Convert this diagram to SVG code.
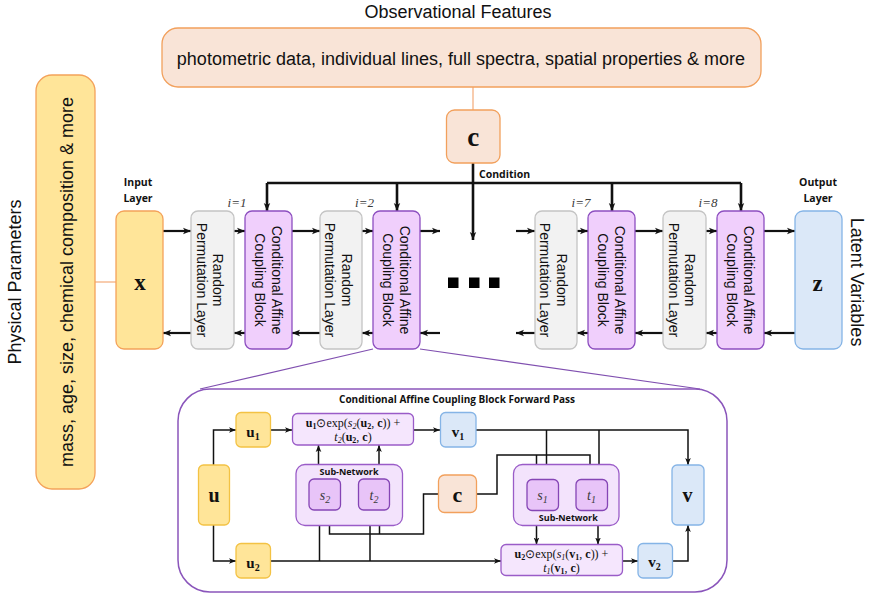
<svg xmlns="http://www.w3.org/2000/svg" width="869" height="596" viewBox="0 0 869 596">
  <style>
    .sans { font-family: "Liberation Sans", Arial, sans-serif; fill: #111; }
    .bsm { font-family: "Open Sans", "Liberation Sans", sans-serif; font-weight: bold; fill: #111; }
    .serif { font-family: "Liberation Serif", "Times New Roman", serif; fill: #111; }
    .bs { font-family: "Liberation Serif", "Times New Roman", serif; font-weight: bold; fill: #111; }
    .it { font-family: "Liberation Serif", "Times New Roman", serif; font-style: italic; fill: #3a3a3a; }
    .peach { fill: #f9e4d7; stroke: #f2a05c; stroke-width: 1.3; }
    .yellowO { fill: #ffe599; stroke: #f4a25a; stroke-width: 1.3; }
    .yellowG { fill: #ffe599; stroke: #f3c244; stroke-width: 1.3; }
    .gray { fill: #f2f2f2; stroke: #c4c4c4; stroke-width: 1.3; }
    .cab { fill: #f0cffc; stroke: #8d4fc0; stroke-width: 1.3; }
    .blue { fill: #dbe8f8; stroke: #85b4e6; stroke-width: 1.3; }
    .form { fill: #f5e6fd; stroke: #9a5cc8; stroke-width: 1.3; }
    .sub { fill: #f3e3fc; stroke: #9a5cc8; stroke-width: 1.3; }
    .st { fill: #e8c4f8; stroke: #8545b5; stroke-width: 1.3; }
    .wire { fill: none; stroke: #111; stroke-width: 2.2; }
    .cond { fill: none; stroke: #111; stroke-width: 2.6; }
    .thin { fill: none; stroke: #111; stroke-width: 1.5; }
    .orange { fill: none; stroke: #f4b183; stroke-width: 1.3; }
    .callout { fill: none; stroke: #8050b0; stroke-width: 1.2; }
  </style>
  <defs>
    <marker id="ah" viewBox="0 0 10 10" refX="10" refY="5" markerWidth="8" markerHeight="8" markerUnits="userSpaceOnUse" orient="auto">
      <path d="M0,1 L10,5 L0,9 L2.5,5 z" fill="#111"/>
    </marker>
    <marker id="ahs" viewBox="0 0 10 10" refX="10" refY="5" markerWidth="7" markerHeight="7" markerUnits="userSpaceOnUse" orient="auto">
      <path d="M0,1 L10,5 L0,9 L2.5,5 z" fill="#111"/>
    </marker>
  </defs>

  <!-- headings -->
  <text class="sans" x="458" y="18" font-size="18" text-anchor="middle">Observational Features</text>
  <text class="sans" font-size="18" text-anchor="middle" transform="translate(20.5,282) rotate(-90)">Physical Parameters</text>
  <text class="sans" font-size="18" text-anchor="middle" transform="translate(851,282) rotate(90)">Latent Variables</text>

  <!-- connectors -->
  <g id="connectors">
    <path class="orange" d="M473,87 V110"/>
    <path class="orange" d="M95,282 H116"/>

    <!-- condition distribution -->
    <path class="cond" d="M473,163 V240" marker-end="url(#ah)"/>
    <path class="cond" d="M267,183 H741"/>
    <path class="cond" d="M267,183 V211" marker-end="url(#ah)"/>
    <path class="cond" d="M397,183 V211" marker-end="url(#ah)"/>
    <path class="cond" d="M612,183 V211" marker-end="url(#ah)"/>
    <path class="cond" d="M741,183 V211" marker-end="url(#ah)"/>

    <!-- forward direction -->
    <path class="wire" d="M163,231 H191" marker-end="url(#ah)"/>
    <path class="wire" d="M234,231 H245" marker-end="url(#ah)"/>
    <path class="wire" d="M292,231 H320" marker-end="url(#ah)"/>
    <path class="wire" d="M362,231 H373" marker-end="url(#ah)"/>
    <path class="wire" d="M420,231 H440" marker-end="url(#ah)"/>
    <path class="wire" d="M516,231 H535" marker-end="url(#ah)"/>
    <path class="wire" d="M577,231 H588" marker-end="url(#ah)"/>
    <path class="wire" d="M635,231 H663" marker-end="url(#ah)"/>
    <path class="wire" d="M706,231 H717" marker-end="url(#ah)"/>
    <path class="wire" d="M764,231 H795" marker-end="url(#ah)"/>

    <!-- inverse direction -->
    <path class="wire" d="M191,333 H163" marker-end="url(#ah)"/>
    <path class="wire" d="M245,333 H234" marker-end="url(#ah)"/>
    <path class="wire" d="M320,333 H292" marker-end="url(#ah)"/>
    <path class="wire" d="M373,333 H362" marker-end="url(#ah)"/>
    <path class="wire" d="M440,333 H420" marker-end="url(#ah)"/>
    <path class="wire" d="M535,333 H516" marker-end="url(#ah)"/>
    <path class="wire" d="M588,333 H577" marker-end="url(#ah)"/>
    <path class="wire" d="M663,333 H635" marker-end="url(#ah)"/>
    <path class="wire" d="M717,333 H706" marker-end="url(#ah)"/>
    <path class="wire" d="M795,333 H764" marker-end="url(#ah)"/>

    <!-- zoom callout -->
    <path class="callout" d="M373,349 L200,389"/>
    <path class="callout" d="M420,349 L700,389"/>
  </g>

  <!-- observational features -->
  <g id="obs">
    <rect class="peach" x="162" y="28" width="599" height="59" rx="16"/>
    <text class="sans" x="461" y="65" font-size="18" text-anchor="middle">photometric data, individual lines, full spectra, spatial properties &amp; more</text>
  </g>

  <g id="cond">
    <rect class="peach" x="446.5" y="110" width="53.5" height="53" rx="8"/>
    <text class="bs" x="473.3" y="146" font-size="27" text-anchor="middle">c</text>
    <text class="bsm" x="479" y="178" font-size="10.5">Condition</text>
  </g>

  <g id="phys">
    <rect class="yellowO" x="36" y="75" width="59" height="414" rx="16"/>
    <text class="sans" font-size="18" text-anchor="middle" transform="translate(72.5,282) rotate(-90)">mass, age, size, chemical composition &amp; more</text>
  </g>

  <g id="input">
    <text class="bsm" x="138" y="186" font-size="10.5" text-anchor="middle">Input</text>
    <text class="bsm" x="138" y="202" font-size="10.5" text-anchor="middle">Layer</text>
    <rect class="yellowO" x="116" y="211" width="47" height="138" rx="8"/>
    <text class="bs" x="140" y="290" font-size="23" text-anchor="middle">x</text>
  </g>

  <g id="perm1">
    <rect class="gray" x="191" y="211" width="43" height="138" rx="7"/>
    <g transform="translate(212.5,280) rotate(90)" class="sans" font-size="14" text-anchor="middle">
      <text y="-0.5">Random</text><text y="16">Permutation Layer</text>
    </g>
  </g>
  <g id="cacb1">
    <text class="it" x="237" y="207" font-size="13" text-anchor="middle">i=1</text>
    <rect class="cab" x="245" y="211" width="47" height="138" rx="7"/>
    <g transform="translate(268.5,280) rotate(90)" class="sans" font-size="14" text-anchor="middle">
      <text y="-3.5">Conditional Affine</text><text y="13.5">Coupling Block</text>
    </g>
  </g>
  <g id="perm2">
    <rect class="gray" x="320" y="211" width="42" height="138" rx="7"/>
    <g transform="translate(341,280) rotate(90)" class="sans" font-size="14" text-anchor="middle">
      <text y="-0.5">Random</text><text y="16">Permutation Layer</text>
    </g>
  </g>
  <g id="cacb2">
    <text class="it" x="364.5" y="207" font-size="13" text-anchor="middle">i=2</text>
    <rect class="cab" x="373" y="211" width="47" height="138" rx="7"/>
    <g transform="translate(396.5,280) rotate(90)" class="sans" font-size="14" text-anchor="middle">
      <text y="-3.5">Conditional Affine</text><text y="13.5">Coupling Block</text>
    </g>
  </g>

  <g id="ellipsis">
    <rect x="448" y="277.5" width="10.5" height="10.5" fill="#000"/>
    <rect x="469" y="277.5" width="10.5" height="10.5" fill="#000"/>
    <rect x="489" y="277.5" width="10.5" height="10.5" fill="#000"/>
  </g>

  <g id="perm7">
    <rect class="gray" x="535" y="211" width="42" height="138" rx="7"/>
    <g transform="translate(556,280) rotate(90)" class="sans" font-size="14" text-anchor="middle">
      <text y="-0.5">Random</text><text y="16">Permutation Layer</text>
    </g>
  </g>
  <g id="cacb7">
    <text class="it" x="581" y="207" font-size="13" text-anchor="middle">i=7</text>
    <rect class="cab" x="588" y="211" width="47" height="138" rx="7"/>
    <g transform="translate(611.5,280) rotate(90)" class="sans" font-size="14" text-anchor="middle">
      <text y="-3.5">Conditional Affine</text><text y="13.5">Coupling Block</text>
    </g>
  </g>
  <g id="perm8">
    <rect class="gray" x="663" y="211" width="43" height="138" rx="7"/>
    <g transform="translate(684.5,280) rotate(90)" class="sans" font-size="14" text-anchor="middle">
      <text y="-0.5">Random</text><text y="16">Permutation Layer</text>
    </g>
  </g>
  <g id="cacb8">
    <text class="it" x="708" y="207" font-size="13" text-anchor="middle">i=8</text>
    <rect class="cab" x="717" y="211" width="47" height="138" rx="7"/>
    <g transform="translate(740.5,280) rotate(90)" class="sans" font-size="14" text-anchor="middle">
      <text y="-3.5">Conditional Affine</text><text y="13.5">Coupling Block</text>
    </g>
  </g>

  <g id="output">
    <text class="bsm" x="818" y="186" font-size="10.5" text-anchor="middle">Output</text>
    <text class="bsm" x="818" y="202" font-size="10.5" text-anchor="middle">Layer</text>
    <rect class="blue" x="795" y="211" width="47" height="138" rx="8"/>
    <text class="bs" x="817.5" y="290.5" font-size="23" text-anchor="middle">z</text>
  </g>

  <!-- forward pass detail -->
  <g id="forward-pass">
    <rect x="178" y="389" width="549" height="203" rx="32" fill="#fff" stroke="#8a55bb" stroke-width="1.5"/>
    <text class="bsm" x="457" y="403" font-size="10" text-anchor="middle">Conditional Affine Coupling Block Forward Pass</text>
  </g>

  <g id="fp-connectors">
    <path class="thin" d="M213.5,465 V430 H236" marker-end="url(#ahs)"/>
    <path class="thin" d="M213.5,525 V561 H236" marker-end="url(#ahs)"/>
    <path class="thin" d="M270.5,430 H292" marker-end="url(#ahs)"/>
    <path class="thin" d="M413.5,430 H440" marker-end="url(#ahs)"/>
    <path class="thin" d="M476,430 H688 V465" marker-end="url(#ahs)"/>
    <path class="thin" d="M546.5,430 V479" marker-end="url(#ahs)"/>
    <path class="thin" d="M599,430 V479" marker-end="url(#ahs)"/>
    <path class="thin" d="M318.5,479 V445" marker-end="url(#ahs)"/>
    <path class="thin" d="M379,479 V445" marker-end="url(#ahs)"/>
    <path class="thin" d="M270.5,561 H501" marker-end="url(#ahs)"/>
    <path class="thin" d="M319.5,561 V510" marker-end="url(#ahs)"/>
    <path class="thin" d="M370,561 V510" marker-end="url(#ahs)"/>
    <path class="thin" d="M438.5,494 H423.5 V534 H329.5 V510" marker-end="url(#ahs)"/>
    <path class="thin" d="M379.5,534 V510" marker-end="url(#ahs)"/>
    <path class="thin" d="M476.5,494 H497 V455 H590 V479" marker-end="url(#ahs)"/>
    <path class="thin" d="M536.5,455 V479" marker-end="url(#ahs)"/>
    <path class="thin" d="M536.5,510.5 V544.5" marker-end="url(#ahs)"/>
    <path class="thin" d="M598,510.5 V544.5" marker-end="url(#ahs)"/>
    <path class="thin" d="M622.5,561 H638" marker-end="url(#ahs)"/>
    <path class="thin" d="M672.5,561 H688 V525" marker-end="url(#ahs)"/>
  </g>

  <g id="u">
    <rect class="yellowG" x="198.5" y="465" width="31" height="60" rx="5"/>
    <text class="bs" x="214" y="502" font-size="20" text-anchor="middle">u</text>
  </g>
  <g id="u1">
    <rect class="yellowG" x="236" y="412.5" width="34.5" height="34.5" rx="5"/>
    <text class="bs" x="253" y="437" font-size="15" text-anchor="middle">u<tspan font-size="10" dy="3">1</tspan></text>
  </g>
  <g id="u2">
    <rect class="yellowG" x="236" y="543.5" width="34.5" height="34.5" rx="5"/>
    <text class="bs" x="253" y="568" font-size="15" text-anchor="middle">u<tspan font-size="10" dy="3">2</tspan></text>
  </g>

  <g id="affine1">
    <rect class="form" x="292.5" y="413.5" width="121" height="31.5" rx="5"/>
    <text class="serif" x="353" y="427" font-size="12" text-anchor="middle"><tspan font-weight="bold">u</tspan><tspan font-weight="bold" font-size="8" dy="1.5">1</tspan><tspan dy="-1.5">⊙exp(</tspan><tspan font-style="italic">s</tspan><tspan font-style="italic" font-size="8" dy="1.5">2</tspan><tspan dy="-1.5">(</tspan><tspan font-weight="bold">u</tspan><tspan font-weight="bold" font-size="8" dy="1.5">2</tspan><tspan dy="-1.5">, </tspan><tspan font-weight="bold">c</tspan>)) +</text>
    <text class="serif" x="353" y="441" font-size="12" text-anchor="middle"><tspan font-style="italic">t</tspan><tspan font-style="italic" font-size="8" dy="1.5">2</tspan><tspan dy="-1.5">(</tspan><tspan font-weight="bold">u</tspan><tspan font-weight="bold" font-size="8" dy="1.5">2</tspan><tspan dy="-1.5">, </tspan><tspan font-weight="bold">c</tspan>)</text>
  </g>

  <g id="v1">
    <rect class="blue" x="440.5" y="412.5" width="35.5" height="34.5" rx="5"/>
    <text class="bs" x="458" y="437" font-size="15" text-anchor="middle">v<tspan font-size="10" dy="3">1</tspan></text>
  </g>

  <g id="subnet2">
    <rect class="sub" x="296" y="464.5" width="106.5" height="61" rx="9"/>
    <text class="bsm" x="349" y="475" font-size="9" text-anchor="middle">Sub-Network</text>
  </g>
  <g id="s2">
    <rect class="st" x="309" y="479" width="31.5" height="31" rx="5"/>
    <text class="it" x="325" y="500" font-size="14" text-anchor="middle">s<tspan font-size="10" dy="3">2</tspan></text>
  </g>
  <g id="t2">
    <rect class="st" x="358.5" y="479" width="31" height="31" rx="5"/>
    <text class="it" x="374" y="500" font-size="14" text-anchor="middle">t<tspan font-size="10" dy="3">2</tspan></text>
  </g>

  <g id="c-small">
    <rect class="peach" x="438.5" y="475" width="38" height="37.5" rx="6"/>
    <text class="bs" x="457.5" y="501.5" font-size="22" text-anchor="middle">c</text>
  </g>

  <g id="subnet1">
    <rect class="sub" x="513.5" y="464.5" width="105.5" height="61" rx="9"/>
    <text class="bsm" x="568.3" y="521" font-size="9" text-anchor="middle">Sub-Network</text>
  </g>
  <g id="s1">
    <rect class="st" x="527" y="479.5" width="31.5" height="31" rx="5"/>
    <text class="it" x="542.5" y="500" font-size="14" text-anchor="middle">s<tspan font-size="10" dy="3">1</tspan></text>
  </g>
  <g id="t1">
    <rect class="st" x="576" y="479.5" width="31.5" height="31" rx="5"/>
    <text class="it" x="591.5" y="500" font-size="14" text-anchor="middle">t<tspan font-size="10" dy="3">1</tspan></text>
  </g>

  <g id="affine2">
    <rect class="form" x="501" y="544.5" width="121.5" height="31" rx="5"/>
    <text class="serif" x="561.5" y="558" font-size="12" text-anchor="middle"><tspan font-weight="bold">u</tspan><tspan font-weight="bold" font-size="8" dy="1.5">2</tspan><tspan dy="-1.5">⊙exp(</tspan><tspan font-style="italic">s</tspan><tspan font-style="italic" font-size="8" dy="1.5">1</tspan><tspan dy="-1.5">(</tspan><tspan font-weight="bold">v</tspan><tspan font-weight="bold" font-size="8" dy="1.5">1</tspan><tspan dy="-1.5">, </tspan><tspan font-weight="bold">c</tspan>)) +</text>
    <text class="serif" x="561.5" y="572" font-size="12" text-anchor="middle"><tspan font-style="italic">t</tspan><tspan font-style="italic" font-size="8" dy="1.5">1</tspan><tspan dy="-1.5">(</tspan><tspan font-weight="bold">v</tspan><tspan font-weight="bold" font-size="8" dy="1.5">1</tspan><tspan dy="-1.5">, </tspan><tspan font-weight="bold">c</tspan>)</text>
  </g>

  <g id="v2">
    <rect class="blue" x="638" y="543.5" width="34.5" height="34.5" rx="5"/>
    <text class="bs" x="654.5" y="567" font-size="15" text-anchor="middle">v<tspan font-size="10" dy="3">2</tspan></text>
  </g>

  <g id="v">
    <rect class="blue" x="672" y="465" width="32" height="60" rx="5"/>
    <text class="bs" x="687.5" y="502" font-size="20" text-anchor="middle">v</text>
  </g>
</svg>
